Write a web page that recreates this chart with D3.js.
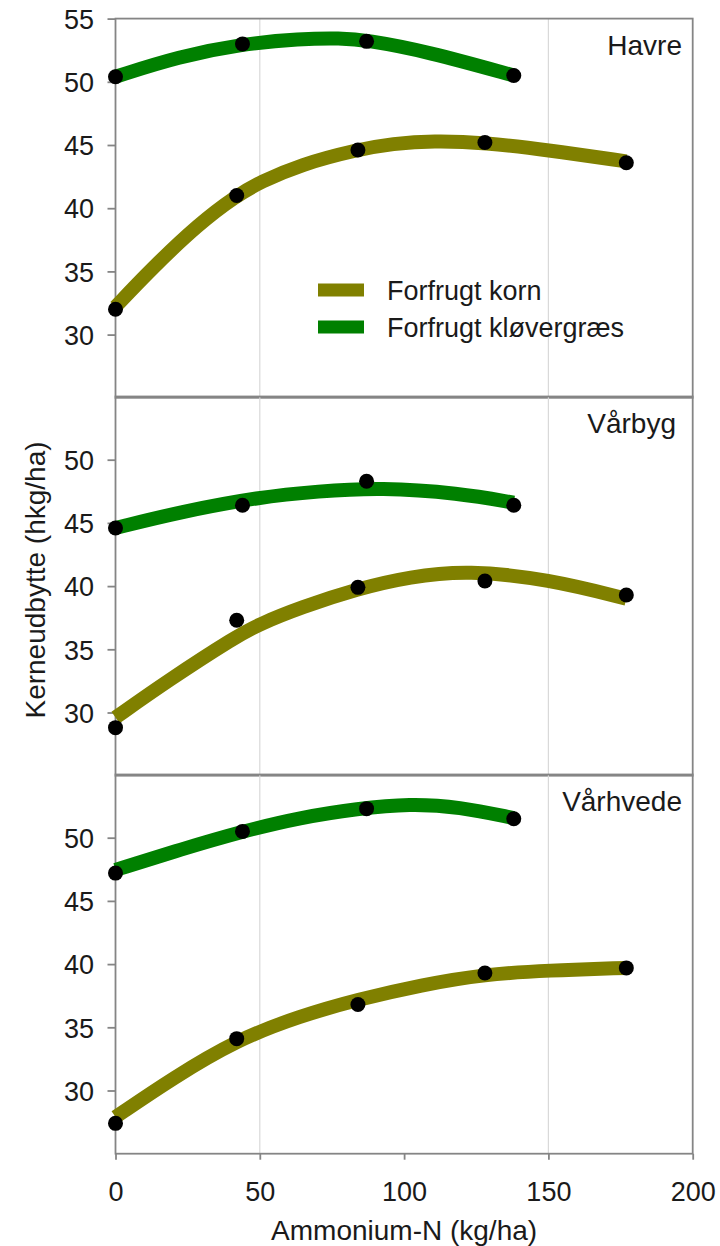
<!DOCTYPE html>
<html><head><meta charset="utf-8">
<script src="https://cdn.jsdelivr.net/npm/d3@7"></script>
<style>body{margin:0;background:#fff}</style>
</head><body><svg id="c" width="720" height="1246"></svg>
<script>
// ---------- data ----------
const panelNames = ["Havre", "Vårbyg", "Vårhvede"];
const seriesNames = ["Forfrugt korn", "Forfrugt kløvergræs"];
const xTicks = [0, 50, 100, 150, 200];
const xGrid = [50, 150];
const yTicksTop = [30, 35, 40, 45, 50, 55];
const yTicks = [30, 35, 40, 45, 50];

const kornN = [0, 42, 84, 128, 177];
const kloverN = [0, 44, 87, 138];

const havreKorn = [32.0, 41.0, 44.6, 45.2, 43.6];
const havreKlover = [50.4, 53.0, 53.2, 50.5];
const vaarbygKorn = [28.8, 37.3, 39.9, 40.4, 39.3];
const vaarbygKlover = [44.6, 46.4, 48.3, 46.4];
const vaarhvedeKorn = [27.4, 34.1, 36.8, 39.3, 39.7];
const vaarhvedeKlover = [47.2, 50.5, 52.3, 51.5];

// fitted response curves
const havreKornFitN = [0, 12, 29, 42, 50, 64, 84, 96, 110, 128, 150, 177];
const havreKornFit = [32.2, 35.1, 38.8, 41.0, 42.05, 43.45, 44.65, 45.1, 45.35, 45.2, 44.6, 43.7];
const havreKloverFitN = [0, 22, 44, 64, 78, 87, 108, 138];
const havreKloverFit = [50.4, 52.0, 53.0, 53.4, 53.45, 53.3, 52.4, 50.5];
const vaarbygKornFitN = [0, 18, 42, 50, 64, 84, 102, 122, 150, 177];
const vaarbygKornFit = [29.6, 32.5, 36.05, 37.0, 38.3, 39.8, 40.75, 41.25, 40.55, 39.0];
const vaarbygKloverFitN = [0, 23, 50, 70, 92, 119, 138];
const vaarbygKloverFit = [44.6, 45.9, 47.05, 47.5, 47.8, 47.35, 46.6];
const vaarhvedeKornFitN = [0, 20, 42, 64, 84, 106, 128, 150, 177];
const vaarhvedeKornFit = [27.9, 31.0, 34.0, 35.9, 37.2, 38.35, 39.2, 39.5, 39.7];
const vaarhvedeKloverFitN = [0, 23, 44, 64, 84, 102, 119, 138];
const vaarhvedeKloverFit = [47.45, 49.1, 50.5, 51.6, 52.3, 52.7, 52.45, 51.55];

const colors = ["#808000", "#008000"];

const panels = [
  {name: panelNames[0], korn: havreKorn, klover: havreKlover,
   kornFitN: havreKornFitN, kornFit: havreKornFit, kloverFitN: havreKloverFitN, kloverFit: havreKloverFit},
  {name: panelNames[1], korn: vaarbygKorn, klover: vaarbygKlover,
   kornFitN: vaarbygKornFitN, kornFit: vaarbygKornFit, kloverFitN: vaarbygKloverFitN, kloverFit: vaarbygKloverFit},
  {name: panelNames[2], korn: vaarhvedeKorn, klover: vaarhvedeKlover,
   kornFitN: vaarhvedeKornFitN, kornFit: vaarhvedeKornFit, kloverFitN: vaarhvedeKloverFitN, kloverFit: vaarhvedeKloverFit}
];

// ---------- layout ----------
const FONT = "'Liberation Sans', Arial, sans-serif";
const left = 115.5, right = 692.7;
const tops = [18.6, 396.5, 774.5];
const ph = 379.2;
const labelEndX = [682, 676, 682];

const svg = d3.select("#c").style("font-family", FONT);
const x = d3.scaleLinear().domain([0, 200]).range([left, right]);

const line = d3.line().curve(d3.curveBasis);

panels.forEach((p, i) => {
  const top = tops[i];
  const y = d3.scaleLinear().domain([25, 55]).range([top + ph, top]);
  const g = svg.append("g");

  // grid
  g.selectAll("line.grid").data(xGrid).join("line")
    .attr("x1", d => x(d)).attr("x2", d => x(d))
    .attr("y1", top).attr("y2", top + ph)
    .attr("stroke", "#d9d9d9").attr("stroke-width", 1.2);

  // box
  g.append("rect").attr("x", left).attr("y", top)
    .attr("width", right - left).attr("height", ph)
    .attr("fill", "none").attr("stroke", "#858585").attr("stroke-width", 1.8);

  // y axis
  const ya = g.append("g").attr("transform", `translate(${left},0)`)
    .call(d3.axisLeft(y).tickValues(i === 0 ? yTicksTop : yTicks).tickSize(8).tickPadding(13.5));
  ya.select(".domain").remove();
  ya.selectAll(".tick line").attr("stroke", "#858585").attr("stroke-width", 1.8);
  ya.selectAll(".tick text").attr("font-size", 27).attr("fill", "#1a1a1a")
    .attr("font-family", FONT).attr("dy", "0.36em");

  // curves
  const fits = [[p.kornFitN, p.kornFit], [p.kloverFitN, p.kloverFit]];
  fits.forEach(([ns, vs], k) => {
    g.append("path")
      .attr("d", line(ns.map((n, j) => [x(n), y(vs[j])])))
      .attr("fill", "none").attr("stroke", colors[k]).attr("stroke-width", 14);
  });

  // points
  const pts = [[kornN, p.korn], [kloverN, p.klover]];
  pts.forEach(([ns, vs]) => {
    g.selectAll(null).data(ns.map((n, j) => [n, vs[j]])).join("circle")
      .attr("cx", d => x(d[0])).attr("cy", d => y(d[1])).attr("r", 7.5)
      .attr("fill", "#000");
  });

  // panel label
  g.append("text").attr("x", labelEndX[i]).attr("y", top + 36.5)
    .attr("text-anchor", "end").attr("font-size", 28).attr("fill", "#1a1a1a")
    .text(p.name);

  // x axis on bottom panel
  if (i === panels.length - 1) {
    const xa = g.append("g").attr("transform", `translate(0,${top + ph})`)
      .call(d3.axisBottom(x).tickValues(xTicks).tickSize(6));
    xa.select(".domain").remove();
    xa.selectAll(".tick line").attr("stroke", "#858585").attr("stroke-width", 1.8);
    xa.selectAll(".tick text").attr("font-size", 27).attr("fill", "#1a1a1a")
      .attr("font-family", FONT).attr("dy", null).attr("y", 47);
  }
});

// legend (in top panel)
const legY = [290, 327];
seriesNames.forEach((s, k) => {
  svg.append("line").attr("x1", 318).attr("x2", 364)
    .attr("y1", legY[k]).attr("y2", legY[k])
    .attr("stroke", colors[k]).attr("stroke-width", 13);
  svg.append("text").attr("x", 387).attr("y", legY[k] + 9.5)
    .attr("font-size", 27).attr("fill", "#1a1a1a").text(s);
});

// axis titles
svg.append("text").attr("x", (left + right) / 2).attr("y", 1240)
  .attr("text-anchor", "middle").attr("font-size", 28).attr("fill", "#1a1a1a")
  .text("Ammonium-N (kg/ha)");
svg.append("text").attr("transform", "translate(45,580) rotate(-90)")
  .attr("text-anchor", "middle").attr("font-size", 28).attr("fill", "#1a1a1a")
  .text("Kerneudbytte (hkg/ha)");
</script>
</body></html>
